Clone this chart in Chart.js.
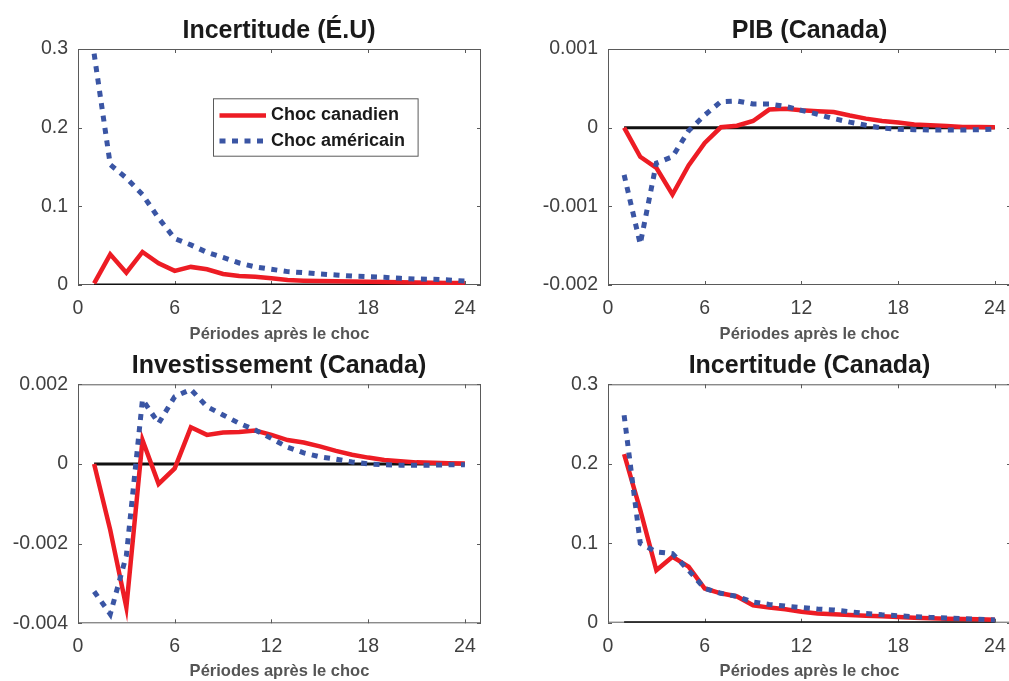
<!DOCTYPE html>
<html>
<head>
<meta charset="utf-8">
<script src="https://cdn.jsdelivr.net/npm/chart.js@4.4.1/dist/chart.umd.min.js"></script>
<style>
  html, body { margin: 0; padding: 0; background: #fff; overflow: hidden; width: 1009px; height: 681px; }
  canvas { position: absolute; }
</style>
</head>
<body>
<canvas id="incUs" width="558" height="346" style="left:0;top:0"></canvas>
<canvas id="pib" width="579" height="346" style="left:520px;top:0"></canvas>
<canvas id="inv" width="558" height="341" style="left:0;top:340px"></canvas>
<canvas id="incCa" width="579" height="341" style="left:520px;top:340px"></canvas>
<script>
// périodes et graduations
const periods = [1, 2, 3, 4, 5, 6, 7, 8, 9, 10, 11, 12, 13, 14, 15, 16, 17, 18, 19, 20, 21, 22, 23, 24];
const zeroLine = [0, 0, 0, 0, 0, 0, 0, 0, 0, 0, 0, 0, 0, 0, 0, 0, 0, 0, 0, 0, 0, 0, 0, 0];
const xTicks = [0, 6, 12, 18, 24];
const xTickLabels = ['0', '6', '12', '18', '24'];

// Incertitude (É.U)
const incUsCan = [0.002, 0.039, 0.0157, 0.042, 0.0275, 0.018, 0.023, 0.020, 0.014, 0.0114, 0.0106, 0.0085, 0.0064, 0.0055, 0.005, 0.0047, 0.0043, 0.004, 0.0037, 0.0034, 0.0031, 0.0028, 0.0026, 0.0024];
const incUsUs = [0.294, 0.153, 0.136, 0.115, 0.085, 0.059, 0.051, 0.0415, 0.035, 0.028, 0.023, 0.020, 0.017, 0.0157, 0.014, 0.0127, 0.0114, 0.0106, 0.0097, 0.0085, 0.0076, 0.0072, 0.0064, 0.005];
const incTicks = [0, 0.1, 0.2, 0.3];
const incTickLabels = ['0', '0.1', '0.2', '0.3'];

// PIB (Canada)
const pibCan = [0, -0.00037, -0.00051, -0.00085, -0.00048, -0.000195, 0.000005, 0.000025, 0.000085, 0.00023, 0.00024, 0.00022, 0.00021, 0.0002, 0.000155, 0.000115, 0.000085, 0.000065, 0.00004, 0.00003, 0.00002, 0.00001, 0.00001, 0.000005];
const pibUs = [-0.0006, -0.00148, -0.00045, -0.00037, -0.00004, 0.00016, 0.00033, 0.00034, 0.0003, 0.0003, 0.00027, 0.00022, 0.00017, 0.000115, 0.00007, 0.00003, -0.000005, -0.00002, -0.000025, -0.00003, -0.00003, -0.00003, -0.000025, -0.00002];
const pibTicks = [-0.002, -0.001, 0, 0.001];
const pibTickLabels = ['-0.002', '-0.001', '0', '0.001'];

// Investissement (Canada)
const invCan = [0, -0.00166, -0.0036, 0.0006, -0.0005, -0.00011, 0.00092, 0.00073, 0.00079, 0.0008, 0.00084, 0.00073, 0.0006, 0.00054, 0.00044, 0.00033, 0.00023, 0.00016, 0.0001, 0.00007, 0.00004, 0.00003, 0.00002, 0.00001];
const invUs = [-0.0032, -0.00377, -0.0023, 0.00162, 0.00102, 0.00169, 0.00187, 0.00144, 0.00123, 0.00102, 0.00085, 0.00064, 0.00042, 0.00028, 0.00018, 0.00012, 0.00005, 0, -0.00002, -0.00003, -0.00003, -0.00003, -0.00002, -0.00002];
const invTicks = [-0.004, -0.002, 0, 0.002];
const invTickLabels = ['-0.004', '-0.002', '0', '0.002'];

// Incertitude (Canada)
const incCaCan = [0.212, 0.142, 0.066, 0.083, 0.0705, 0.043, 0.037, 0.033, 0.022, 0.019, 0.0168, 0.0138, 0.0117, 0.0105, 0.0097, 0.0088, 0.008, 0.0071, 0.0063, 0.0055, 0.005, 0.0046, 0.0042, 0.0038];
const incCaUs = [0.261, 0.1, 0.089, 0.087, 0.066, 0.043, 0.037, 0.033, 0.026, 0.023, 0.021, 0.019, 0.0172, 0.016, 0.0138, 0.0117, 0.01, 0.0088, 0.0075, 0.0067, 0.0059, 0.005, 0.0042, 0.0034];

const RED = '#ED1C24';
const BLUE = '#3A55A4';
const FONT = '"Liberation Sans", Arial, Helvetica, sans-serif';

Chart.defaults.font.family = FONT;

// cadre et graduations vers l'intérieur (style MATLAB)
const boxPlugin = {
    id: 'matlabBox',
    beforeDatasetsDraw(chart) {
        const { ctx, chartArea: a, scales: { x, y } } = chart;
        ctx.save();
        ctx.strokeStyle = '#5a5a5a';
        ctx.lineWidth = 1;
        ctx.strokeRect(a.left + 0.5, a.top + 0.5, a.right - a.left - 1, a.bottom - a.top - 1);
        ctx.beginPath();
        x.ticks.forEach(t => {
            const px = Math.round(x.getPixelForValue(t.value)) + 0.5;
            ctx.moveTo(px, a.bottom); ctx.lineTo(px, a.bottom - 4);
            ctx.moveTo(px, a.top); ctx.lineTo(px, a.top + 4);
        });
        y.ticks.forEach(t => {
            const py = Math.round(y.getPixelForValue(t.value)) + 0.5;
            ctx.moveTo(a.left, py); ctx.lineTo(a.left + 4, py);
            ctx.moveTo(a.right, py); ctx.lineTo(a.right - 4, py);
        });
        ctx.stroke();
        ctx.restore();
    }
};

// légende dans la zone du graphique
const boxLegend = {
    id: 'boxLegend',
    afterDraw(chart, args, opts) {
        const { ctx, chartArea: a } = chart;
        const x = a.left + opts.dx, y = a.top + opts.dy;
        ctx.save();
        ctx.fillStyle = '#fff';
        ctx.fillRect(x, y, opts.w, opts.h);
        ctx.strokeStyle = '#5a5a5a';
        ctx.lineWidth = 1;
        ctx.strokeRect(x + 0.5, y + 0.5, opts.w, opts.h);
        const entries = chart.data.datasets.filter(d => d.label).reverse();
        entries.forEach((d, i) => {
            const cy = y + 17.2 + i * 25.5;
            ctx.strokeStyle = d.borderColor;
            ctx.lineWidth = d.borderWidth;
            ctx.setLineDash(d.borderDash || []);
            ctx.beginPath();
            ctx.moveTo(x + 6.5, cy);
            ctx.lineTo(x + 53, cy);
            ctx.stroke();
            ctx.setLineDash([]);
            ctx.fillStyle = '#1a1a1a';
            ctx.font = 'bold 18px ' + FONT;
            ctx.textBaseline = 'middle';
            ctx.fillText(d.label, x + 58, cy);
        });
        ctx.restore();
    }
};

function makePanel(id, title, yMin, yMax, yTicks, yTickLabels, canSeries, usSeries, lay, legendOpts) {
    const plugins = [boxPlugin];
    if (legendOpts) plugins.push(boxLegend);
    return new Chart(document.getElementById(id), {
        type: 'line',
        data: {
            labels: periods,
            datasets: [
                { label: 'Choc américain', data: usSeries, borderColor: BLUE, borderWidth: 5, borderDash: [6, 6.5], pointRadius: 0, tension: 0 },
                { label: 'Choc canadien', data: canSeries, borderColor: RED, borderWidth: 4.5, pointRadius: 0, tension: 0 },
                { data: zeroLine, borderColor: '#111', borderWidth: 3, pointRadius: 0 }
            ]
        },
        options: {
            responsive: false,
            animation: false,
            devicePixelRatio: 1,
            layout: { padding: 0 },
            plugins: {
                legend: { display: false },
                tooltip: { enabled: false },
                title: {
                    display: true,
                    text: title,
                    color: '#1a1a1a',
                    font: { size: 25, weight: 'bold' },
                    padding: { top: lay.titleTop, bottom: lay.titleBottom }
                },
                boxLegend: legendOpts || {}
            },
            scales: {
                x: {
                    type: 'linear',
                    min: 0,
                    max: 25,
                    afterBuildTicks: s => { s.ticks = xTicks.map(v => ({ value: v })); },
                    afterFit: s => { s.height = lay.xAxisH; },
                    grid: { display: false },
                    border: { display: false },
                    ticks: {
                        color: '#404040',
                        font: { size: 19.5 },
                        padding: 4,
                        maxRotation: 0,
                        autoSkip: false,
                        callback: (v, i) => xTickLabels[i]
                    },
                    title: {
                        display: true,
                        text: 'Périodes après le choc',
                        color: '#555',
                        font: { size: 16.5, weight: 'bold' },
                        padding: { top: 0, bottom: lay.xTitleBottom }
                    }
                },
                y: {
                    min: yMin,
                    max: yMax,
                    afterBuildTicks: s => { s.ticks = yTicks.map(v => ({ value: v })); },
                    afterFit: s => { s.width = lay.axisW; },
                    grid: { display: false },
                    border: { display: false },
                    ticks: {
                        color: '#404040',
                        font: { size: 19.5 },
                        padding: 2,
                        autoSkip: false,
                        callback: (v, i) => yTickLabels[i]
                    }
                },
                // marge droite vide pour centrer le titre sur le graphique
                yRight: {
                    position: 'right',
                    afterFit: s => { s.width = lay.padRight; },
                    grid: { display: false },
                    border: { display: false },
                    ticks: { display: false }
                }
            }
        },
        plugins: plugins
    });
}

const layTopLeft = { axisW: 78, padRight: 77, titleTop: 16.6, titleBottom: 2.4, xAxisH: 61, xTitleBottom: 2 };
const layTopRight = { axisW: 88, padRight: 88, titleTop: 16.6, titleBottom: 2.4, xAxisH: 61, xTitleBottom: 2 };
const layBotLeft = { axisW: 78, padRight: 77, titleTop: 11, titleBottom: 3.3, xAxisH: 57.7, xTitleBottom: 0 };
const layBotRight = { axisW: 88, padRight: 88, titleTop: 11, titleBottom: 3.3, xAxisH: 58.3, xTitleBottom: 0 };

makePanel('incUs', 'Incertitude (É.U)', 0, 0.3, incTicks, incTickLabels, incUsCan, incUsUs, layTopLeft,
    { dx: 135, dy: 49.3, w: 204.6, h: 57.4 });
makePanel('pib', 'PIB (Canada)', -0.002, 0.001, pibTicks, pibTickLabels, pibCan, pibUs, layTopRight, null);
makePanel('inv', 'Investissement (Canada)', -0.004, 0.002, invTicks, invTickLabels, invCan, invUs, layBotLeft, null);
makePanel('incCa', 'Incertitude (Canada)', 0, 0.3, incTicks, incTickLabels, incCaCan, incCaUs, layBotRight, null);
</script>
</body>
</html>
